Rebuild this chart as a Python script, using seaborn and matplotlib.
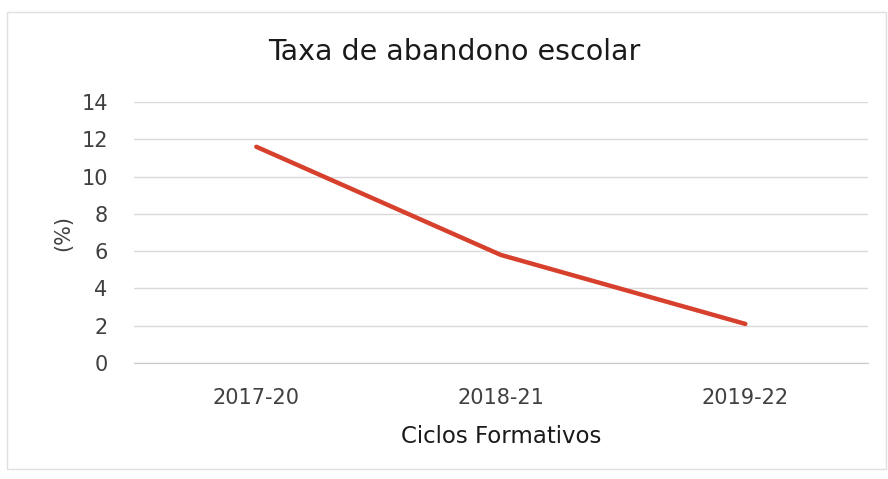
"""Taxa de abandono escolar — line chart."""

import matplotlib.pyplot as plt
import pandas as pd
import seaborn as sns
from matplotlib.patches import Rectangle

ciclos = ["2017-20", "2018-21", "2019-22"]
taxa = [11.6, 5.8, 2.1]
y_ticks = [0, 2, 4, 6, 8, 10, 12, 14]

df = pd.DataFrame({"ciclo": ciclos, "taxa": taxa})

sns.set_style("white")
plt.rcParams["font.family"] = ["DejaVu Sans"]

fig = plt.figure(figsize=(8.88, 4.79), dpi=100)
ax = fig.add_axes([0.151, 0.242, 0.826, 0.545])

sns.lineplot(data=df, x="ciclo", y="taxa", ax=ax, color="#d6402c",
             linewidth=3.2, sort=False, solid_capstyle="round")

ax.set_xlim(-0.5, len(ciclos) - 0.5)
ax.set_ylim(0, 14)
ax.set_yticks(y_ticks)
ax.yaxis.grid(True, color="#d9d9d9", linewidth=1)
ax.set_axisbelow(True)

for side in ["top", "right", "left"]:
    ax.spines[side].set_visible(False)
ax.spines["bottom"].set_color("#c8c8c8")

# category boundary ticks on the x axis
ax.set_xticks(range(len(ciclos)))
ax.set_xticklabels(ciclos)
ax.set_xticks([i - 0.5 for i in range(len(ciclos) + 1)], minor=True)
ax.tick_params(axis="x", which="major", length=0, pad=18, labelsize=15, colors="#404040")
ax.tick_params(axis="x", which="minor", length=6, color="#c8c8c8", width=1)
ax.tick_params(axis="y", length=0, pad=19, labelsize=15, colors="#404040")

ax.set_xlabel("Ciclos Formativos", fontsize=16.5, color="#1a1a1a", labelpad=12)
ax.set_ylabel("(%)", fontsize=15, color="#404040", labelpad=6)
fig.text(0.512, 0.891, "Taxa de abandono escolar", fontsize=20.5,
         color="#1a1a1a", ha="center", va="center")

# faint chart border
fig.patches.append(Rectangle((0.008, 0.02), 0.99, 0.955, transform=fig.transFigure,
                             fill=False, edgecolor="#e0e0e0", linewidth=1))

fig.savefig("out.png", dpi=100)
